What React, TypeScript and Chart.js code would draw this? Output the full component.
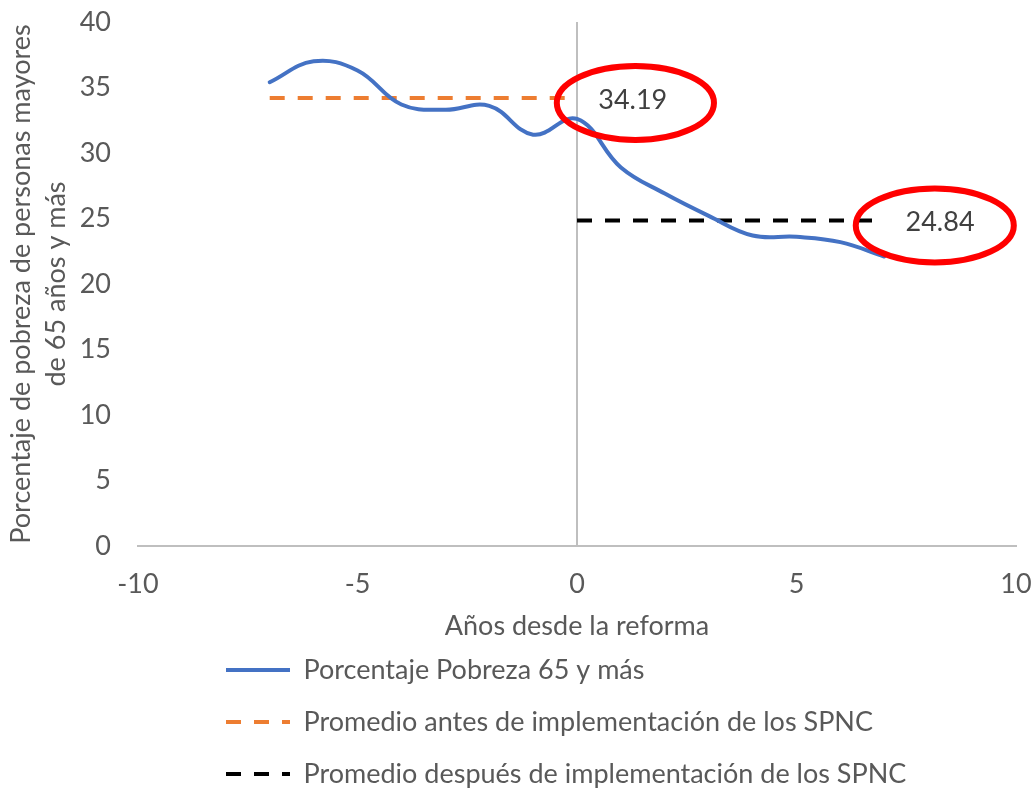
import React, { useEffect, useRef } from "react";
import { Chart, registerables } from "chart.js";

Chart.register(...registerables);

// ---- Data ----
const years = [-7, -6, -5, -4, -3, -2, -1, 0, 1, 2, 3, 4, 5, 6, 7];
const povertyRate = [35.4, 37.0, 36.3, 33.7, 33.3, 33.6, 31.4, 32.6, 28.9, 26.9, 25.2, 23.7, 23.6, 23.2, 22.1];
const beforeYears = [-7, 0];
const beforeMean = [34.19, 34.19];
const afterYears = [0, 7];
const afterMean = [24.84, 24.84];
const xTicks = [-10, -5, 0, 5, 10];
const yTicks = [0, 5, 10, 15, 20, 25, 30, 35, 40];
const seriesLabels = [
  "Porcentaje Pobreza 65 y más",
  "Promedio antes de implementación de los SPNC",
  "Promedio después de implementación de los SPNC",
];
const xTitle = "Años desde la reforma";
const yTitle = ["Porcentaje de pobreza de personas mayores", "de 65 años y más"];

// Callout ellipses (data units) around the mean labels
const calloutValues = [beforeMean[0], afterMean[0]];
const calloutCenterX = [1.33, 8.15];
const calloutCenterY = [33.82, 24.47];
const calloutRadiusX = [1.79, 1.8];
const calloutRadiusY = [2.82, 2.82];
const calloutTextX = [1.27, 8.27];
const calloutTextY = [34.05, 24.73];

const FONT = "Lato, 'Open Sans', sans-serif";
const TEXT = "#595959";
const FS = 27;

const zeroLinePlugin = {
  id: "zeroLine",
  beforeDatasetsDraw(chart: any) {
    const { ctx, chartArea, scales } = chart;
    const x = scales.x.getPixelForValue(0);
    ctx.save();
    ctx.strokeStyle = "#BFBFBF";
    ctx.lineWidth = 2;
    ctx.beginPath();
    ctx.moveTo(x, chartArea.top);
    ctx.lineTo(x, chartArea.bottom);
    ctx.stroke();
    ctx.restore();
  },
};

const calloutPlugin = {
  id: "callouts",
  afterDatasetsDraw(chart: any) {
    const { ctx, scales } = chart;
    const xs = scales.x;
    const ys = scales.y;
    ctx.save();
    calloutValues.forEach((v, i) => {
      const cx = xs.getPixelForValue(calloutCenterX[i]);
      const cy = ys.getPixelForValue(calloutCenterY[i]);
      const rx = Math.abs(xs.getPixelForValue(calloutCenterX[i] + calloutRadiusX[i]) - cx);
      const ry = Math.abs(ys.getPixelForValue(calloutCenterY[i] + calloutRadiusY[i]) - cy);
      ctx.font = `${FS}px ${FONT}`;
      ctx.fillStyle = "#404040";
      ctx.textAlign = "center";
      ctx.textBaseline = "middle";
      ctx.fillText(v.toFixed(2), xs.getPixelForValue(calloutTextX[i]), ys.getPixelForValue(calloutTextY[i]));
      ctx.strokeStyle = "#FF0000";
      ctx.lineWidth = 6;
      ctx.beginPath();
      ctx.ellipse(cx, cy, rx, ry, 0, 0, Math.PI * 2);
      ctx.stroke();
    });
    ctx.restore();
  },
};

const legendPlacementPlugin = {
  id: "legendPlacement",
  afterLayout(chart: any) {
    const lg = chart.legend;
    if (!lg) return;
    const w = lg.width;
    const h = lg.height;
    lg.left = 201;
    lg.right = 201 + w;
    lg.top = 631.5;
    lg.bottom = 631.5 + h;
  },
};

export default function App() {
  const ref = useRef<HTMLCanvasElement>(null);

  useEffect(() => {
    const canvas = ref.current;
    if (!canvas) return;
    const chart = new Chart(canvas, {
      type: "scatter",
      data: {
        datasets: [
          {
            label: seriesLabels[0],
            data: years.map((x, i) => ({ x, y: povertyRate[i] })),
            showLine: true,
            borderColor: "#4472C4",
            backgroundColor: "#4472C4",
            borderWidth: 4,
            pointRadius: 0,
            pointHoverRadius: 0,
            tension: 0.4,
            borderCapStyle: "round",
          },
          {
            label: seriesLabels[1],
            data: beforeYears.map((x, i) => ({ x, y: beforeMean[i] })),
            showLine: true,
            borderColor: "#ED7D31",
            backgroundColor: "#ED7D31",
            borderWidth: 4,
            borderDash: [15, 13],
            pointRadius: 0,
            pointHoverRadius: 0,
          },
          {
            label: seriesLabels[2],
            data: afterYears.map((x, i) => ({ x, y: afterMean[i] })),
            showLine: true,
            borderColor: "#000000",
            backgroundColor: "#000000",
            borderWidth: 4,
            borderDash: [15, 13],
            pointRadius: 0,
            pointHoverRadius: 0,
          },
        ],
      },
      options: {
        responsive: false,
        animation: false,
        devicePixelRatio: 1,
        layout: { padding: { left: 0, top: 22, right: 19, bottom: 0 } },
        scales: {
          x: {
            type: "linear",
            min: -10,
            max: 10,
            afterBuildTicks: (s: any) => {
              s.ticks = xTicks.map((v) => ({ value: v }));
            },
            afterFit: (s: any) => {
              s.height = 100;
              s.paddingLeft = 0;
              s.paddingRight = 0;
            },
            grid: { display: false, drawTicks: false },
            border: { display: true, color: "#BFBFBF", width: 2 },
            ticks: { color: TEXT, font: { family: FONT, size: FS }, padding: 22, maxRotation: 0 },
            title: {
              display: true,
              text: xTitle,
              color: TEXT,
              font: { family: FONT, size: FS },
              padding: { top: 0, bottom: 4 },
            },
          },
          y: {
            type: "linear",
            min: 0,
            max: 40,
            afterBuildTicks: (s: any) => {
              s.ticks = yTicks.map((v) => ({ value: v }));
            },
            afterFit: (s: any) => {
              s.width = 138;
              s.paddingTop = 0;
              s.paddingBottom = 0;
            },
            grid: { display: false, drawTicks: false },
            border: { display: false },
            ticks: { color: TEXT, font: { family: FONT, size: FS }, padding: 27 },
            title: {
              display: true,
              text: yTitle,
              color: TEXT,
              font: { family: FONT, size: FS, lineHeight: 1.3 },
              padding: { top: 4, bottom: 0 },
            },
          },
        },
        plugins: {
          tooltip: { enabled: false },
          legend: {
            display: true,
            position: "bottom",
            align: "start",
            labels: {
              usePointStyle: true,
              pointStyle: "line",
              pointStyleWidth: 64,
              padding: 25,
              color: TEXT,
              font: { family: FONT, size: FS },
              generateLabels: (c: any) =>
                c.data.datasets.map((ds: any, i: number) => ({
                  text: ds.label,
                  datasetIndex: i,
                  strokeStyle: ds.borderColor,
                  fillStyle: ds.borderColor,
                  fontColor: TEXT,
                  lineWidth: 4,
                  lineDash: ds.borderDash || [],
                  pointStyle: "line",
                  hidden: false,
                })),
            },
          },
        },
      },
      plugins: [zeroLinePlugin, calloutPlugin, legendPlacementPlugin],
    } as any);
    return () => chart.destroy();
  }, []);

  return (
    <div
      style={{
        position: "fixed",
        left: 0,
        top: 0,
        width: 1035,
        height: 789,
        overflow: "hidden",
        background: "#ffffff",
      }}
    >
      <canvas ref={ref} width={1035} height={812} style={{ display: "block", width: 1035, height: 812 }} />
    </div>
  );
}
